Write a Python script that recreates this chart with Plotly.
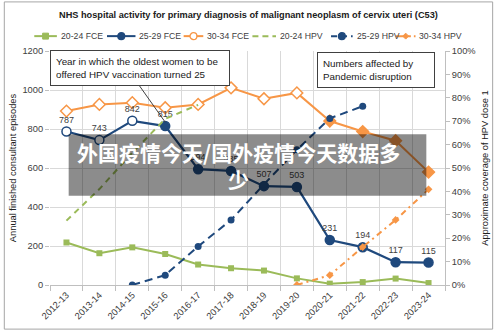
import plotly.graph_objects as go

# ---------------- data ----------------
years = ["2012-13", "2013-14", "2014-15", "2015-16", "2016-17", "2017-18",
         "2018-19", "2019-20", "2020-21", "2021-22", "2022-23", "2023-24"]
fce_20_24 = [218, 163, 193, 159, 105, 86, 74, 34, 7, 15, 33, 10]
fce_25_29 = [787, 743, 842, 815, 594, 585, 507, 503, 231, 194, 117, 115]
fce_30_34 = [892, 926, 935, 909, 926, 1011, 955, 985, 841, 787, 740, 579]
hpv_20_24 = [0.275, 0.41, 0.565, 0.71, 0.77, None, None, None, None, None, None, None]
hpv_25_29 = [None, None, 0.0, 0.042, 0.165, 0.278, 0.43, 0.578, 0.712, 0.764, None, None]
hpv_30_34 = [None, None, None, None, None, None, None, 0.0, 0.042, 0.162, 0.278, 0.409]

GREEN = "#9BBB59"
NAVY = "#1F497D"
ORANGE = "#F79646"
FONT = "Liberation Sans"
TXT = "#404040"

W, H = 500, 333
L, R, T, B = 48, 50, 51, 46
PW, PH = W - L - R, H - T - B


def xp(px):
    return (px - L) / PW


def yp(py):
    return (H - B - py) / PH


fig = go.Figure()

fig.add_trace(go.Scatter(
    x=years, y=fce_20_24, mode="lines+markers", name="20-24 FCE",
    line=dict(color=GREEN, width=2),
    marker=dict(symbol="square", size=6, color=GREEN)))

fig.add_trace(go.Scatter(
    x=years, y=fce_30_34, mode="lines+markers", name="30-34 FCE",
    line=dict(color=ORANGE, width=2),
    marker=dict(symbol="diamond", size=9,
                color=["white" if i < 8 else ORANGE for i in range(len(years))],
                line=dict(color=ORANGE, width=1.5))))

fig.add_trace(go.Scatter(
    x=years, y=fce_25_29, mode="lines+markers+text", name="25-29 FCE",
    text=[str(v) for v in fce_25_29], textposition="top center",
    textfont=dict(family=FONT, size=9, color=TXT),
    line=dict(color=NAVY, width=2.2),
    marker=dict(symbol="circle", size=9,
                color=["white" if i < 3 else NAVY for i in range(len(years))],
                line=dict(color=NAVY, width=1.5))))

fig.add_trace(go.Scatter(
    x=years, y=hpv_20_24, mode="lines", name="20-24 HPV", yaxis="y2",
    line=dict(color=GREEN, width=2, dash="6px,5px")))

fig.add_trace(go.Scatter(
    x=years, y=hpv_25_29, mode="lines+markers", name="25-29 HPV", yaxis="y2",
    line=dict(color=NAVY, width=2, dash="8px,5px"),
    marker=dict(symbol="circle", size=7, color=NAVY)))

fig.add_trace(go.Scatter(
    x=years, y=hpv_30_34, mode="lines+markers", name="30-34 HPV", yaxis="y2",
    line=dict(color=ORANGE, width=2, dash="6px,4px,2px,4px"),
    marker=dict(symbol="diamond", size=6, color=ORANGE)))

shapes = []
annotations = []

# outer border
shapes.append(dict(type="rect", xref="paper", yref="paper",
                   x0=xp(1.5), x1=xp(498.5), y0=yp(331.5), y1=yp(1.5),
                   line=dict(color="#A6A6A6", width=1), layer="below"))

# annotation boxes
annotations.append(dict(
    xref="paper", yref="paper", x=xp(48), y=yp(50), xanchor="left", yanchor="top",
    text="Year in which the oldest women to be<br>offered HPV vaccination turned 25",
    showarrow=False, align="left", width=168, height=24, borderpad=5,
    bgcolor="white", bordercolor="#404040", borderwidth=1,
    font=dict(family=FONT, size=9.8, color="#202020")))
shapes.append(dict(type="line", xref="x", yref="y",
                   x0=2.17, y0=1033, x1=3, y1=835,
                   line=dict(color="#404040", width=1)))

annotations.append(dict(
    xref="paper", yref="paper", x=xp(320), y=yp(52.5), xanchor="left", yanchor="top",
    text="Numbers affected by<br>Pandemic disruption",
    showarrow=False, align="left", width=106, height=24, borderpad=5,
    bgcolor="white", bordercolor="#404040", borderwidth=1,
    font=dict(family=FONT, size=9.8, color="#202020")))

# title
annotations.append(dict(
    xref="paper", yref="paper", x=xp(250), y=yp(15), xanchor="center", yanchor="middle",
    text="<b>NHS hospital activity for primary diagnosis of malignant neoplasm of cervix uteri (C53)</b>",
    showarrow=False, font=dict(family=FONT, size=9.2, color="#202020")))

# custom legend
LY = 36
legend_items = [
    ("20-24 FCE", GREEN, "solid", 32, 55, "square", GREEN),
    ("25-29 FCE", NAVY, "solid", 106, 135, "circle", NAVY),
    ("30-34 FCE", ORANGE, "solid", 184, 204, "circle", "white"),
    ("20-24 HPV", GREEN, "dash", 254, 278, None, None),
    ("25-29 HPV", NAVY, "dash", 334, 356, "circle", NAVY),
    ("30-34 HPV", ORANGE, "dashdot", 400, 420, "diamond", ORANGE),
]
for name, col, dash, x0, x1, sym, fill in legend_items:
    shapes.append(dict(type="line", xref="paper", yref="paper",
                       x0=xp(x0), x1=xp(x1), y0=yp(LY), y1=yp(LY),
                       line=dict(color=col, width=2, dash=dash if dash != "dash" else "6px,4px")))
    cx = (x0 + x1) / 2
    if sym == "square":
        shapes.append(dict(type="rect", xref="paper", yref="paper",
                           x0=xp(cx - 3), x1=xp(cx + 3), y0=yp(LY + 3), y1=yp(LY - 3),
                           fillcolor=fill, line=dict(color=col, width=1)))
    elif sym == "circle":
        shapes.append(dict(type="circle", xref="paper", yref="paper",
                           x0=xp(cx - 3.5), x1=xp(cx + 3.5), y0=yp(LY + 3.5), y1=yp(LY - 3.5),
                           fillcolor=fill, line=dict(color=col, width=1.3)))
    elif sym == "diamond":
        shapes.append(dict(type="path", xref="paper", yref="paper",
                           path=f"M {xp(cx)},{yp(LY-3)} L {xp(cx+3)},{yp(LY)} L {xp(cx)},{yp(LY+3)} L {xp(cx-3)},{yp(LY)} Z",
                           fillcolor=fill, line=dict(color=col, width=1)))
    annotations.append(dict(
        xref="paper", yref="paper", x=xp(x1 + 2), y=yp(LY), xanchor="left", yanchor="middle",
        text=name, showarrow=False, font=dict(family=FONT, size=8.7, color=TXT)))

# overlay banner
shapes.append(dict(type="rect", xref="paper", yref="paper", layer="above",
                   x0=xp(67), x1=xp(431), y0=yp(197), y1=yp(135),
                   fillcolor="rgba(0,0,0,0.45)", line=dict(width=0)))
annotations.append(dict(
    xref="paper", yref="paper", x=xp(240), y=yp(166), xanchor="center", yanchor="middle",
    text="<b>外国疫情今天/国外疫情今天数据多<br>少</b>", showarrow=False, align="center",
    font=dict(family="Noto Sans CJK SC", size=21, color="white")))

fig.update_layout(
    width=W, height=H, margin=dict(l=L, r=R, t=T, b=B),
    paper_bgcolor="white", plot_bgcolor="white",
    showlegend=False,
    font=dict(family=FONT, size=9, color="#595959"),
    xaxis=dict(type="category", tickson="boundaries", ticks="outside", ticklen=5,
               tickcolor="#BFBFBF", tickangle=-45, showgrid=True, gridcolor="#D9D9D9",
               gridwidth=1, showline=True, linecolor="#BFBFBF",
               tickfont=dict(family=FONT, size=9.3, color="#404040"),
               range=[-0.5, 11.5], fixedrange=True),
    yaxis=dict(range=[0, 1200], dtick=200, showgrid=True, gridcolor="#D9D9D9",
               ticks="outside", ticklen=4, tickcolor="#BFBFBF", zeroline=False,
               showline=False, tickfont=dict(family=FONT, size=9.3, color="#404040"),
               title=dict(text="Annual finished consultant episodes",
                          font=dict(family=FONT, size=9.3, color="#202020"), standoff=4)),
    yaxis2=dict(range=[0, 1], dtick=0.1, tickformat=".0%", overlaying="y", side="right",
                showgrid=False, ticks="outside", ticklen=4, tickcolor="#BFBFBF",
                showline=True, linecolor="#BFBFBF", zeroline=False,
                tickfont=dict(family=FONT, size=9.3, color="#404040"),
                title=dict(text="Approximate coverage of HPV dose 1",
                           font=dict(family=FONT, size=9.3, color="#202020"), standoff=6)),
    shapes=shapes, annotations=annotations,
)

fig.write_html("out.html")
